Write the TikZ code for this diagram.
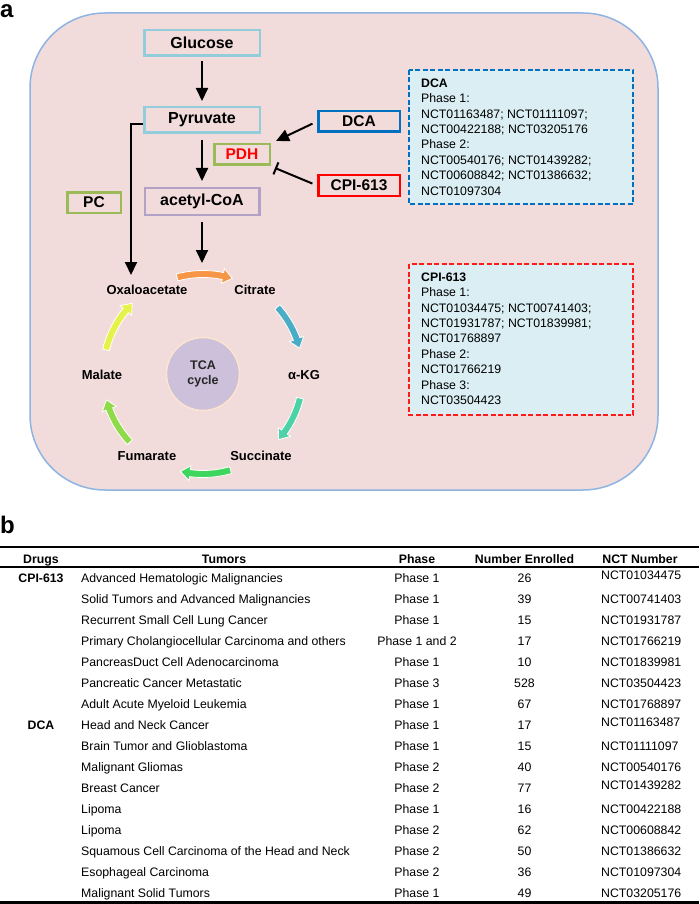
\documentclass[tikz,border=0pt]{standalone}
\usepackage{fontspec}
\setmainfont{Liberation Sans}
\usetikzlibrary{arrows.meta}
\definecolor{cellfill}{HTML}{F2DCDB}
\definecolor{cellline}{HTML}{8EB4E3}
\definecolor{sugarline}{HTML}{92CDDC}
\definecolor{coaline}{HTML}{B3A2C7}
\definecolor{enzline}{HTML}{9BBB59}
\definecolor{dcablue}{HTML}{0070C0}
\definecolor{cpired}{HTML}{FF1A1A}
\definecolor{infofill}{HTML}{DAEEF3}
\definecolor{tcafill}{HTML}{CCC0DA}
\definecolor{tcaline}{HTML}{FCE4D0}
\definecolor{cycorange}{HTML}{F79646}
\definecolor{cycblue}{HTML}{4BACC6}
\definecolor{cycteal}{HTML}{4DD2A8}
\definecolor{cycgreen}{HTML}{3ED65C}
\definecolor{cyclime}{HTML}{8FDA48}
\definecolor{cycyellow}{HTML}{E6F24A}

\begin{document}
\begin{tikzpicture}[x=1pt,y=-1pt]
				\tikzstyle{metab}=[draw, line width=2.5pt, inner sep=0pt, minimum height=25.5pt, minimum width=115.5pt, font=\bfseries\fontsize{16}{19}\selectfont]
				\tikzstyle{enzyme}=[draw=enzline, line width=2.5pt, inner sep=0pt, minimum height=20.5pt, font=\bfseries\fontsize{15.5}{18}\selectfont]
				\tikzstyle{drug}=[enzyme, minimum width=81.5pt]
				\tikzstyle{flow}=[line width=2pt, -{Triangle[width=12pt,length=13pt]}]
				\tikzstyle{info}=[line width=1.8pt, dash pattern=on 5pt off 2.5pt, fill=infofill]
				\tikzstyle{infotext}=[anchor=north west, inner sep=0pt, align=left, font=\fontsize{12.3}{15.4}\selectfont]
				\tikzstyle{cyc}=[inner sep=1pt, font=\bfseries\fontsize{13}{15}\selectfont]
				\tikzstyle{cell}=[inner sep=0pt, font=\fontsize{12.3}{14}\selectfont]
				\tikzstyle{head}=[inner sep=0pt, anchor=base, font=\bfseries\fontsize{12.3}{14}\selectfont]
				\tikzstyle{panel}=[anchor=base west, inner sep=0pt, font=\bfseries\fontsize{24}{24}\selectfont]
				\useasboundingbox (0,0) rectangle (699,904);
				\node[panel] (lbla) at (0,18) {a};
				\draw[cellline, fill=cellfill, line width=1.5pt, rounded corners=75pt] (30,13) rectangle (658,490);
				\node[metab, draw=sugarline] (glc) at (202,43) {Glucose};
				\node[metab, draw=sugarline] (pyr) at (202,120) {Pyruvate};
				\node[metab, draw=coaline, minimum height=26.5pt, minimum width=114.5pt] (acoa) at (202,201.5) {acetyl-CoA};
				\node[enzyme, minimum width=55.5pt, text=red] (pdh) at (242,154.5) {PDH};
				\node[enzyme, minimum width=53.5pt] (pc) at (94,202.5) {PC};
				\node[drug, draw=dcablue] (dca) at (359,121.5) {DCA};
				\node[drug, draw=red] (cpi) at (359,185.5) {CPI-613};
				\coordinate (tcain) at (202,263);
				\coordinate (oaain) at (131,275);
				\draw[flow, shorten <=4pt, shorten >=5pt] (glc) -- (pyr);
				\draw[flow, shorten <=6pt, shorten >=6pt] (pyr) -- (acoa);
				\draw[flow, shorten <=6pt] (acoa) -- (tcain);
				\draw[flow] ([yshift=-4pt]pyr.west) -| (oaain);
				\draw[flow, shorten <=5pt] (dca.west) -- ([xshift=5pt,yshift=2pt]pdh.north east);
				\draw[line width=2pt, -{Bar[width=13pt]}, shorten <=5pt] (cpi.west) -- ([xshift=4pt,yshift=-2pt]pdh.south east);
				\draw[info, draw=dcablue] (409,70) rectangle (633,204);
				\node[infotext] (dcainfo) at (421,78.6) {\textbf{DCA}\\Phase 1:\\NCT01163487; NCT01111097;\\NCT00422188; NCT03205176\\Phase 2:\\NCT00540176; NCT01439282;\\NCT00608842; NCT01386632;\\NCT01097304};
				\draw[info, draw=cpired] (409,264) rectangle (633,415);
				\node[infotext] (cpiinfo) at (421,272.6) {\textbf{CPI-613}\\Phase 1:\\NCT01034475; NCT00741403;\\NCT01931787; NCT01839981;\\NCT01768897\\Phase 2:\\NCT01766219\\Phase 3:\\NCT03504423};
				\node[circle, fill=tcafill, draw=tcaline, line width=1.5pt, minimum size=73pt, inner sep=0pt, align=center, text=black!85, font=\bfseries\fontsize{12.5}{15.5}\selectfont] (tca) at (203,374) {TCA\\cycle};
				\node[cyc] (oaa) at (147,290) {Oxaloacetate};
				\node[cyc] (cit) at (255,290) {Citrate};
				\node[cyc] (akg) at (304,375) {α-KG};
				\node[cyc] (suc) at (261,456) {Succinate};
				\node[cyc] (fum) at (147,456) {Fumarate};
				\node[cyc] (mal) at (102,375) {Malate};
				\begin{scope}[shift={(203,374)}, y=1pt]
					\foreach \s/\e/\c in {105/73/cycorange, 42/15/cycblue, -14/-41/cycteal, -74/-103/cycgreen, -137/-165/cyclime, 166/135/cycyellow}
						\filldraw[fill=\c, draw=white, line width=0.8pt] (\s:103.5) arc[start angle=\s, end angle=\e+5.5, radius=103.5] -- (\e+5.5:107.5) -- (\e:100) -- (\e+5.5:92.5) -- (\e+5.5:96.5) arc[start angle=\e+5.5, end angle=\s, radius=96.5] -- cycle;
				\end{scope}
				\node[panel] (lblb) at (0,533) {b};
				\draw[line width=2.5pt] (0,547) -- (699,547);
				\node[head] (hdrug) at (41,563.3) {Drugs};
				\node[head] (htum) at (224,563.3) {Tumors};
				\node[head] (hph) at (417,563.3) {Phase};
				\node[head] (hnum) at (524.5,563.3) {Number Enrolled};
				\node[head] (hnct) at (640,563.3) {NCT Number};
				\draw[line width=1.2pt] (0,567) -- (699,567);
				\node[head] (dcpi) at (41,582.3) {CPI-613};
				\node[head] (ddca) at (41,729.3) {DCA};
				\foreach \tum/\ph/\num/\nct/\up [count=\i] in {
					Advanced Hematologic Malignancies/Phase 1/26/NCT01034475/3,
					Solid Tumors and Advanced Malignancies/Phase 1/39/NCT00741403/0,
					Recurrent Small Cell Lung Cancer/Phase 1/15/NCT01931787/0,
					Primary Cholangiocellular Carcinoma and others/Phase 1 and 2/17/NCT01766219/0,
					PancreasDuct Cell Adenocarcinoma/Phase 1/10/NCT01839981/0,
					Pancreatic Cancer Metastatic/Phase 3/528/NCT03504423/0,
					Adult Acute Myeloid Leukemia/Phase 1/67/NCT01768897/0,
					Head and Neck Cancer/Phase 1/17/NCT01163487/3,
					Brain Tumor and Glioblastoma/Phase 1/15/NCT01111097/0,
					Malignant Gliomas/Phase 2/40/NCT00540176/0,
					Breast Cancer/Phase 2/77/NCT01439282/3,
					Lipoma/Phase 1/16/NCT00422188/0,
					Lipoma/Phase 2/62/NCT00608842/0,
					Squamous Cell Carcinoma of the Head and Neck/Phase 2/50/NCT01386632/0,
					Esophageal Carcinoma/Phase 2/36/NCT01097304/0,
					Malignant Solid Tumors/Phase 1/49/NCT03205176/0}
				{
					\pgfmathsetmacro\yb{582.3+21*(\i-1)}
					\node[cell, anchor=base west] (tum\i) at (81,\yb) {\tum};
					\node[cell, anchor=base] (ph\i) at (417,\yb) {\ph};
					\node[cell, anchor=base] (num\i) at (524.5,\yb) {\num};
					\node[cell, anchor=base west] (nct\i) at (601,\yb-\up) {\nct};
				}
				\draw[line width=3pt] (0,902.5) -- (699,902.5);
\end{tikzpicture}
\end{document}
